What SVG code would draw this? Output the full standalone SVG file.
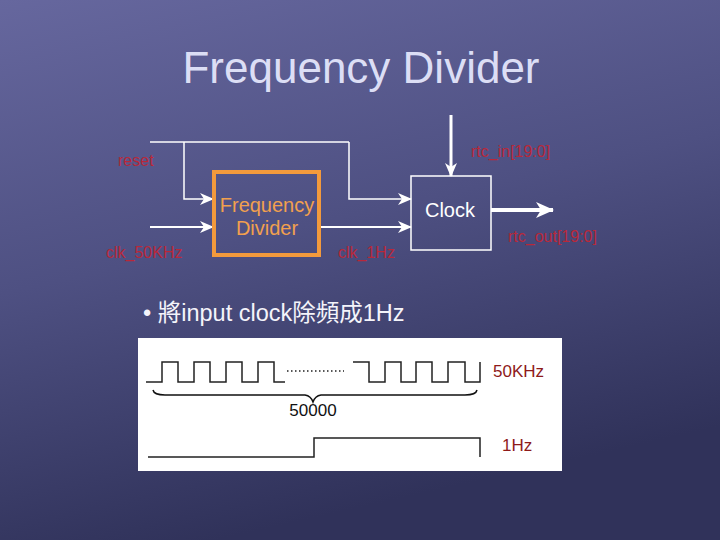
<svg xmlns="http://www.w3.org/2000/svg" width="720" height="540" viewBox="0 0 720 540">
<defs>
<linearGradient id="bg" x1="0" y1="0" x2="0.3" y2="1">
<stop offset="0" stop-color="#66679E"/>
<stop offset="0.5" stop-color="#4E5082"/>
<stop offset="1" stop-color="#30325A"/>
</linearGradient>
<marker id="ah" markerUnits="userSpaceOnUse" markerWidth="14" markerHeight="12" refX="13" refY="6" orient="auto">
<path d="M0,0 L14,6 L0,12 L4,6 z" fill="#FFFFFF"/>
</marker>
<marker id="ahb" markerUnits="userSpaceOnUse" markerWidth="18" markerHeight="16" refX="17" refY="8" orient="auto">
<path d="M0,0 L18,8 L0,16 L5,8 z" fill="#FFFFFF"/>
</marker>
<style>
.w{fill:none;stroke:#FFFFFF;stroke-width:1.5}
.w2{fill:none;stroke:#FFFFFF;stroke-width:2}
.lbl{font-family:"Liberation Sans",Arial,sans-serif;font-size:16px;fill:#B8283A}
.wv{fill:none;stroke:#222222;stroke-width:1.5}
.wl{font-family:"Liberation Sans",Arial,sans-serif;font-size:17px;fill:#8E1A1A}
</style>
</defs>
<rect width="720" height="540" fill="url(#bg)"/>
<text x="361" y="83" text-anchor="middle" font-family="'Liberation Sans',Arial,sans-serif" font-size="44" fill="#DCDEF5">Frequency Divider</text>

<g id="connectors">
<path class="w" d="M150,142 H349"/>
<path class="w" d="M184,142 V199 H213" marker-end="url(#ah)"/>
<path class="w" d="M349,142 V199 H411" marker-end="url(#ah)"/>
<path class="w2" d="M150,227 H213" marker-end="url(#ah)"/>
<path class="w2" d="M321,227 H411" marker-end="url(#ah)"/>
<path fill="none" stroke="#FFFFFF" stroke-width="3" d="M451,115 V176" marker-end="url(#ah)"/>
<path fill="none" stroke="#FFFFFF" stroke-width="4" d="M491,210 H553" marker-end="url(#ahb)"/>
</g>

<g id="freq-divider">
<rect x="214" y="172" width="105" height="83" fill="none" stroke="#F39A3C" stroke-width="4"/>
<text x="267" y="212" text-anchor="middle" font-family="'Liberation Sans',Arial,sans-serif" font-size="20" fill="#F2A04E">Frequency</text>
<text x="267" y="235" text-anchor="middle" font-family="'Liberation Sans',Arial,sans-serif" font-size="20" fill="#F2A04E">Divider</text>
</g>

<g id="clock">
<rect x="411" y="176" width="80" height="74" fill="none" stroke="#FFFFFF" stroke-width="1.5"/>
<text x="450" y="217" text-anchor="middle" font-family="'Liberation Sans',Arial,sans-serif" font-size="20" fill="#FFFFFF">Clock</text>
</g>

<g id="labels">
<text class="lbl" x="118" y="166">reset</text>
<text class="lbl" x="106" y="258">clk_50KHz</text>
<text class="lbl" x="338" y="258">clk_1Hz</text>
<text class="lbl" x="471" y="157">rtc_in[19:0]</text>
<text class="lbl" x="508" y="242">rtc_out[19:0]</text>
</g>

<text x="143" y="321" font-family="'Liberation Sans','Noto Sans CJK TC',sans-serif" font-size="23.5" fill="#F4F4FA">• 將input clock除頻成1Hz</text>

<g id="waveform">
<rect x="138" y="338" width="424" height="133" fill="#FFFFFF"/>
<path class="wv" d="M146,382 H162 V362 H178 V382 H194 V362 H210 V382 H226 V362 H242 V382 H258 V362 H274 V382 H285"/>
<path fill="none" stroke="#222222" stroke-width="1.5" stroke-dasharray="1.5,2.5" d="M287,371 H344"/>
<path class="wv" d="M353,362 V362 H369 V382 H385 V362 H401 V382 H416 V362 H432 V382 H448 V362 H465 V382 H480 V362"/>
<path fill="none" stroke="#111111" stroke-width="1.5" d="M153,390 Q154,395 165,395 H305 Q311,396 313,402 Q315,396 321,395 H465 Q476,395 477,390"/>
<text x="313" y="416" text-anchor="middle" font-family="'Liberation Sans',Arial,sans-serif" font-size="17" fill="#111111">50000</text>
<path class="wv" d="M148,457 H314 V438 H480 V457"/>
<text class="wl" x="493" y="377">50KHz</text>
<text class="wl" x="502" y="451">1Hz</text>
</g>
</svg>
